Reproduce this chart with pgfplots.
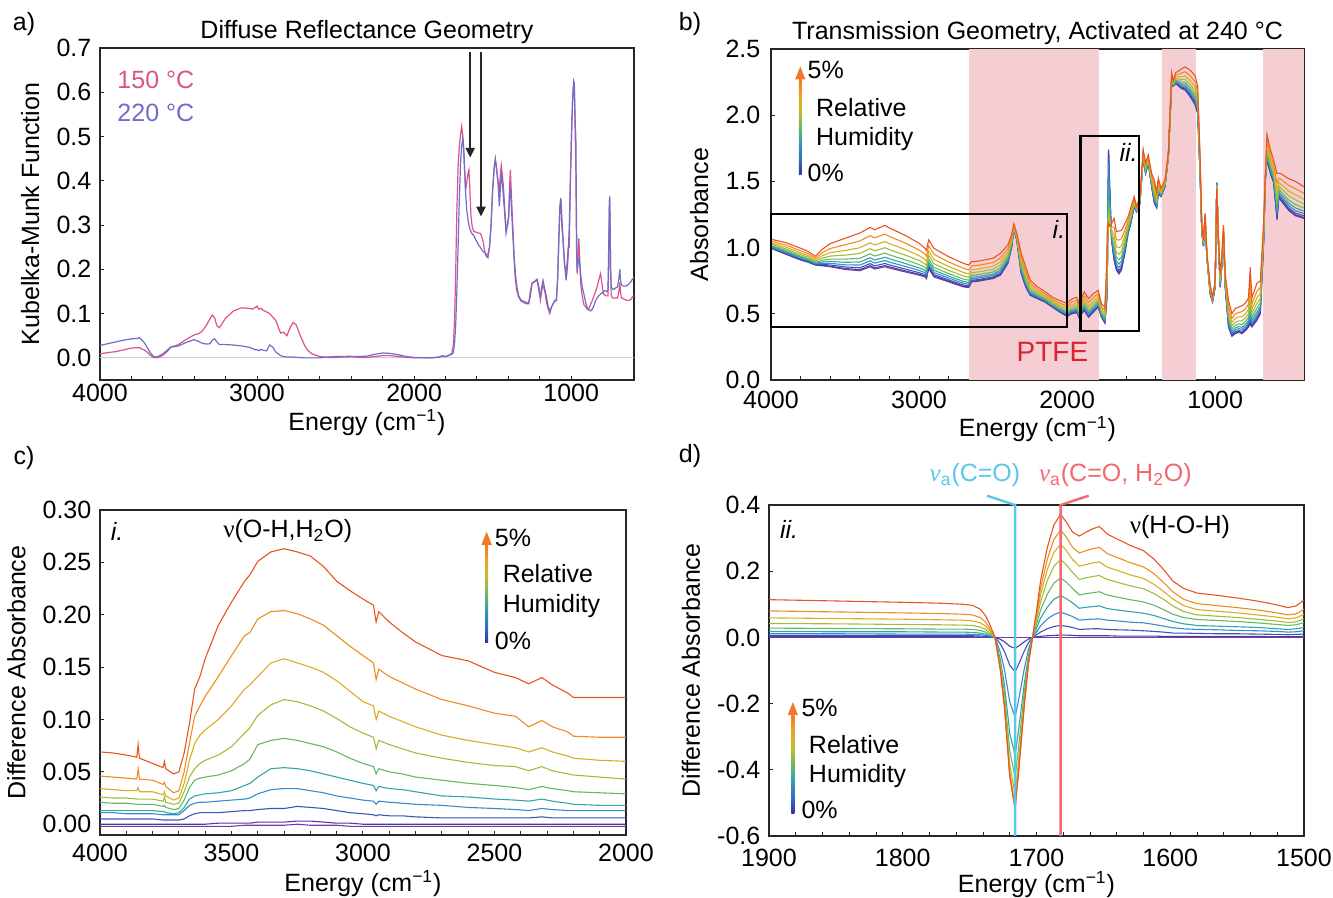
\documentclass[border=0pt]{standalone}
\usepackage{fontspec}
\setmainfont{Liberation Sans}
\newfontfamily\nufont{Liberation Serif}
\usepackage{pgfplots}
\pgfplotsset{compat=1.18}
\usepackage{pgfplotstable}
\usetikzlibrary{arrows.meta}

\definecolor{pinkA}{RGB}{217,84,140}
\definecolor{blueA}{RGB}{110,110,200}
\definecolor{ptfe}{RGB}{245,206,211}
\definecolor{ptfetext}{RGB}{215,35,50}
\definecolor{cyanL}{RGB}{90,200,235}
\definecolor{redL}{RGB}{242,105,112}
\definecolor{j0}{RGB}{120,60,160}
\definecolor{j1}{RGB}{75,60,165}
\definecolor{j2}{RGB}{60,85,185}
\definecolor{j3}{RGB}{55,140,205}
\definecolor{j4}{RGB}{50,165,165}
\definecolor{j5}{RGB}{100,185,100}
\definecolor{j6}{RGB}{160,190,60}
\definecolor{j7}{RGB}{215,175,35}
\definecolor{j8}{RGB}{240,140,30}
\definecolor{j9}{RGB}{232,85,35}
\definecolor{g0}{RGB}{50,50,155}
\definecolor{g1}{RGB}{50,110,200}
\definecolor{g2}{RGB}{50,160,170}
\definecolor{g3}{RGB}{110,185,90}
\definecolor{g4}{RGB}{190,190,50}
\definecolor{g5}{RGB}{235,165,35}
\definecolor{g6}{RGB}{240,120,40}
\pgfdeclareverticalshading{rhgrad}{100bp}{color(0bp)=(g0); color(25bp)=(g0); color(33bp)=(g1); color(42bp)=(g2); color(50bp)=(g3); color(58bp)=(g4); color(67bp)=(g5); color(75bp)=(g6); color(100bp)=(g6)}

\newcommand{\fs}{\fontsize{12.5}{15}\selectfont}

\pgfplotsset{
  every axis/.append style={
    scale only axis,
    anchor=south west,
    axis line style={line width=0.7pt, black!85},
    tick style={black!85, line width=0.5pt},
    tick align=inside,
    tick pos=left,
    major tick length=2pt,
    minor tick length=2pt,
    clip mode=individual,
    /pgf/number format/assume math mode=true,
    /pgf/number format/1000 sep={},
    every tick label/.append style={font=\fs},
    label style={font=\fs},
    title style={font=\fs, at={(0.5,1)}, anchor=south, yshift=-8pt},
    xlabel={Energy (cm\textsuperscript{−1})},
  },
  toprowA/.style={every x tick label/.append style={yshift=2.5pt}, xlabel style={yshift=4.5pt}},
  toprowB/.style={every x tick label/.append style={inner ysep=1pt, yshift=-4.4pt},
                  every y tick label/.append style={inner ysep=0.5pt, xshift=-1pt},
                  xlabel style={yshift=1.8pt}},
  botrowC/.style={xlabel style={yshift=4pt}},
  botrowD/.style={every x tick label/.append style={yshift=-2pt}, xlabel style={yshift=6pt}},
  rh/.style={line width=0.55pt},
}

% ---------------- panel a data: x, 150 C (pink), 220 C (blue)
\pgfplotstableread{
x pink blue
4000 0.009 0.028
3950 0.012 0.032
3900 0.014 0.036
3850 0.018 0.040
3800 0.022 0.043
3760 0.023 0.044
3750 0.023 0.046
3720 0.018 0.035
3700 0.013 0.024
3680 0.006 0.012
3660 0.001 0.003
3640 0.000 0.002
3620 0.002 0.005
3600 0.006 0.009
3570 0.015 0.018
3550 0.024 0.024
3500 0.030 0.027
3450 0.042 0.035
3400 0.052 0.041
3370 0.055 0.037
3350 0.060 0.033
3320 0.075 0.031
3300 0.088 0.032
3285 0.097 0.040
3270 0.090 0.043
3255 0.072 0.036
3240 0.068 0.030
3200 0.090 0.030
3150 0.106 0.029
3100 0.113 0.027
3050 0.112 0.024
3030 0.110 0.021
3010 0.114 0.018
3000 0.117 0.019
2990 0.110 0.016
2975 0.112 0.019
2960 0.107 0.017
2940 0.104 0.016
2920 0.100 0.029
2900 0.092 0.024
2880 0.084 0.013
2860 0.065 0.008
2850 0.056 0.005
2830 0.058 0.003
2810 0.050 0.002
2790 0.068 0.002
2770 0.080 0.002
2750 0.074 0.001
2730 0.055 0.001
2700 0.030 0.000
2680 0.018 0.000
2650 0.009 0.000
2600 0.003 0.000
2550 0.001 0.002
2500 0.001 0.003
2450 0.002 0.003
2420 0.004 0.002
2400 0.003 0.003
2350 0.001 0.003
2300 0.001 0.004
2250 0.003 0.008
2200 0.005 0.011
2150 0.005 0.010
2100 0.003 0.007
2050 0.001 0.003
2000 0.000 0.001
1900 0.000 0.000
1840 0.002 0.001
1820 0.005 0.004
1800 0.003 0.003
1780 0.006 0.005
1760 0.010 0.008
1750 0.030 0.012
1742 0.090 0.035
1735 0.200 0.075
1728 0.330 0.150
1720 0.430 0.250
1712 0.480 0.360
1704 0.505 0.440
1697 0.523 0.480
1690 0.500 0.494
1684 0.470 0.470
1678 0.420 0.420
1672 0.380 0.370
1665 0.395 0.335
1658 0.415 0.315
1651 0.425 0.300
1645 0.380 0.292
1638 0.320 0.285
1630 0.296 0.280
1620 0.286 0.276
1611 0.285 0.270
1600 0.283 0.262
1590 0.282 0.255
1579 0.281 0.250
1570 0.275 0.245
1560 0.262 0.240
1550 0.240 0.238
1540 0.230 0.230
1530 0.235 0.226
1520 0.250 0.250
1510 0.300 0.300
1500 0.380 0.380
1490 0.430 0.430
1483 0.450 0.448
1475 0.430 0.425
1466 0.400 0.395
1457 0.380 0.342
1450 0.420 0.390
1445 0.435 0.418
1437 0.410 0.390
1430 0.380 0.357
1422 0.330 0.320
1415 0.300 0.281
1405 0.300 0.300
1398 0.320 0.319
1392 0.390 0.370
1387 0.425 0.388
1382 0.380 0.350
1372 0.300 0.281
1363 0.230 0.220
1355 0.190 0.175
1345 0.160 0.150
1334 0.140 0.137
1318 0.130 0.128
1302 0.128 0.125
1286 0.125 0.122
1270 0.125 0.122
1260 0.150 0.140
1249 0.170 0.167
1235 0.172 0.172
1217 0.178 0.175
1205 0.160 0.150
1196 0.130 0.137
1188 0.150 0.160
1179 0.165 0.175
1168 0.150 0.155
1157 0.125 0.137
1146 0.110 0.115
1136 0.100 0.106
1125 0.115 0.115
1115 0.122 0.122
1105 0.130 0.128
1094 0.130 0.129
1086 0.180 0.180
1079 0.260 0.266
1072 0.340 0.340
1066 0.360 0.361
1060 0.300 0.320
1051 0.260 0.266
1042 0.210 0.210
1032 0.195 0.175
1025 0.220 0.200
1019 0.250 0.230
1012 0.250 0.300
1004 0.420 0.418
995 0.540 0.540
990 0.590 0.590
984 0.620 0.625
980 0.610 0.620
975 0.520 0.540
970 0.420 0.494
966 0.250 0.300
962 0.190 0.198
957 0.230 0.210
951 0.270 0.225
945 0.220 0.210
940 0.170 0.190
930 0.140 0.160
919 0.120 0.144
908 0.115 0.125
898 0.110 0.114
888 0.110 0.108
877 0.120 0.106
865 0.130 0.110
855 0.140 0.118
845 0.150 0.129
835 0.160 0.135
825 0.175 0.140
813 0.190 0.144
805 0.170 0.146
795 0.145 0.150
781 0.140 0.152
772 0.140 0.150
766 0.140 0.152
761 0.200 0.250
757 0.340 0.340
755 0.360 0.365
752 0.300 0.300
749 0.200 0.200
745 0.140 0.160
735 0.135 0.155
725 0.135 0.155
717 0.135 0.158
705 0.135 0.160
696 0.150 0.180
690 0.170 0.200
686 0.150 0.175
680 0.135 0.165
674 0.135 0.163
660 0.132 0.162
645 0.130 0.163
632 0.130 0.167
620 0.132 0.172
610 0.138 0.178
600 0.140 0.182
}\tabA

% ---------------- panel b data: 0% (y0) ... 5% (y9)
\pgfplotstableread{
x y0 y1 y2 y3 y4 y5 y6 y7 y8 y9
4000 0.995 0.997 1.000 1.005 1.011 1.017 1.026 1.036 1.049 1.063
3900 0.950 0.953 0.957 0.963 0.970 0.979 0.990 1.004 1.020 1.038
3800 0.906 0.909 0.913 0.919 0.926 0.935 0.947 0.960 0.976 0.995
3750 0.890 0.892 0.897 0.902 0.909 0.917 0.928 0.940 0.955 0.972
3700 0.868 0.870 0.873 0.878 0.883 0.890 0.899 0.909 0.921 0.935
3650 0.862 0.866 0.872 0.881 0.891 0.904 0.921 0.940 0.963 0.990
3600 0.855 0.860 0.869 0.881 0.895 0.913 0.936 0.962 0.993 1.030
3500 0.835 0.842 0.854 0.870 0.889 0.913 0.943 0.978 1.021 1.070
3400 0.825 0.834 0.848 0.868 0.891 0.919 0.956 0.999 1.050 1.110
3330 0.855 0.864 0.879 0.900 0.923 0.953 0.992 1.036 1.090 1.152
3300 0.838 0.847 0.862 0.883 0.906 0.936 0.975 1.019 1.073 1.135
3230 0.855 0.864 0.880 0.902 0.927 0.958 0.999 1.046 1.102 1.168
3200 0.845 0.854 0.869 0.890 0.915 0.945 0.984 1.030 1.084 1.148
3100 0.818 0.826 0.840 0.860 0.882 0.910 0.946 0.988 1.038 1.096
3000 0.792 0.799 0.811 0.828 0.847 0.872 0.903 0.939 0.982 1.033
2960 0.779 0.785 0.796 0.811 0.829 0.850 0.878 0.911 0.950 0.995
2950 0.765 0.771 0.782 0.797 0.814 0.836 0.864 0.896 0.935 0.980
2935 0.843 0.849 0.860 0.875 0.892 0.914 0.942 0.974 1.013 1.058
2900 0.779 0.785 0.796 0.811 0.829 0.850 0.878 0.911 0.950 0.995
2800 0.741 0.747 0.756 0.770 0.785 0.804 0.828 0.857 0.891 0.931
2700 0.703 0.708 0.717 0.730 0.744 0.762 0.785 0.812 0.844 0.881
2665 0.698 0.703 0.712 0.724 0.737 0.754 0.776 0.802 0.832 0.868
2645 0.741 0.746 0.753 0.764 0.776 0.791 0.811 0.834 0.861 0.893
2600 0.746 0.751 0.758 0.769 0.781 0.796 0.816 0.839 0.866 0.898
2500 0.766 0.771 0.778 0.789 0.801 0.816 0.836 0.859 0.887 0.919
2450 0.792 0.797 0.805 0.817 0.830 0.846 0.868 0.893 0.922 0.957
2400 0.881 0.885 0.892 0.902 0.913 0.927 0.945 0.966 0.991 1.020
2375 1.000 1.003 1.008 1.015 1.023 1.033 1.046 1.061 1.079 1.100
2360 1.135 1.136 1.139 1.142 1.145 1.150 1.156 1.162 1.171 1.180
2340 1.058 1.060 1.062 1.066 1.070 1.075 1.081 1.089 1.098 1.109
2310 0.805 0.810 0.817 0.828 0.840 0.855 0.875 0.898 0.925 0.957
2280 0.703 0.708 0.715 0.726 0.738 0.753 0.773 0.796 0.823 0.855
2250 0.640 0.643 0.649 0.657 0.666 0.678 0.692 0.710 0.730 0.754
2200 0.614 0.617 0.621 0.627 0.634 0.643 0.655 0.668 0.684 0.703
2150 0.589 0.591 0.595 0.601 0.607 0.615 0.625 0.637 0.651 0.668
2100 0.551 0.553 0.557 0.562 0.568 0.575 0.585 0.596 0.609 0.625
2050 0.513 0.516 0.520 0.526 0.533 0.542 0.553 0.566 0.582 0.600
2000 0.480 0.483 0.488 0.495 0.503 0.512 0.525 0.540 0.557 0.578
1970 0.500 0.503 0.509 0.517 0.525 0.536 0.551 0.567 0.587 0.610
1950 0.505 0.508 0.514 0.522 0.531 0.543 0.558 0.575 0.596 0.620
1935 0.510 0.513 0.519 0.527 0.536 0.548 0.563 0.580 0.601 0.625
1920 0.474 0.477 0.482 0.490 0.498 0.509 0.523 0.539 0.558 0.580
1885 0.525 0.529 0.536 0.546 0.557 0.571 0.589 0.610 0.636 0.665
1855 0.474 0.478 0.485 0.495 0.506 0.520 0.539 0.560 0.585 0.615
1825 0.510 0.514 0.521 0.531 0.542 0.556 0.574 0.595 0.621 0.650
1790 0.550 0.554 0.560 0.569 0.579 0.592 0.608 0.627 0.650 0.677
1768 0.474 0.477 0.482 0.489 0.497 0.507 0.520 0.536 0.554 0.575
1745 0.430 0.434 0.440 0.448 0.458 0.470 0.485 0.503 0.525 0.550
1732 0.600 0.609 0.624 0.645 0.669 0.699 0.738 0.783 0.837 0.900
1728 0.800 0.811 0.829 0.854 0.882 0.918 0.965 1.018 1.083 1.158
1720 1.740 1.740 1.701 1.634 1.471 1.354 1.275 1.225 1.191 1.180
1712 1.440 1.440 1.420 1.387 1.306 1.247 1.208 1.182 1.166 1.160
1700 1.060 1.064 1.070 1.078 1.088 1.100 1.115 1.133 1.155 1.180
1683 0.905 0.914 0.930 0.952 0.978 1.009 1.050 1.098 1.155 1.221
1667 0.830 0.839 0.853 0.874 0.897 0.926 0.963 1.007 1.059 1.120
1650 0.800 0.810 0.826 0.849 0.875 0.907 0.950 0.998 1.057 1.125
1633 0.830 0.839 0.854 0.875 0.899 0.929 0.968 1.013 1.067 1.130
1610 0.955 0.962 0.973 0.989 1.007 1.029 1.059 1.092 1.133 1.180
1588 1.107 1.111 1.117 1.126 1.136 1.149 1.165 1.184 1.207 1.234
1570 1.180 1.184 1.190 1.198 1.208 1.220 1.235 1.253 1.275 1.300
1547 1.310 1.312 1.316 1.321 1.327 1.335 1.345 1.356 1.370 1.386
1531 1.270 1.271 1.273 1.276 1.279 1.283 1.288 1.294 1.302 1.310
1508 1.335 1.337 1.339 1.343 1.347 1.352 1.358 1.366 1.375 1.386
1486 1.680 1.682 1.685 1.689 1.694 1.700 1.708 1.717 1.727 1.740
1470 1.560 1.562 1.566 1.572 1.578 1.586 1.597 1.609 1.623 1.640
1452 1.640 1.642 1.645 1.649 1.654 1.660 1.668 1.677 1.687 1.700
1429 1.460 1.463 1.468 1.475 1.483 1.493 1.506 1.521 1.539 1.560
1411 1.335 1.340 1.349 1.361 1.375 1.393 1.416 1.442 1.473 1.510
1395 1.300 1.304 1.310 1.318 1.328 1.340 1.355 1.373 1.395 1.420
1384 1.410 1.413 1.419 1.427 1.436 1.448 1.463 1.480 1.501 1.525
1366 1.385 1.387 1.390 1.395 1.400 1.406 1.415 1.425 1.436 1.450
1339 1.460 1.462 1.464 1.468 1.472 1.477 1.483 1.491 1.500 1.510
1316 1.690 1.691 1.692 1.694 1.696 1.698 1.702 1.705 1.710 1.715
1294 2.240 2.242 2.246 2.252 2.258 2.266 2.277 2.289 2.303 2.320
1282 2.220 2.221 2.223 2.226 2.229 2.233 2.238 2.244 2.252 2.260
1267 2.240 2.242 2.246 2.252 2.258 2.266 2.277 2.289 2.303 2.320
1226 2.200 2.205 2.212 2.223 2.235 2.250 2.269 2.292 2.319 2.350
1203 2.190 2.195 2.204 2.216 2.230 2.248 2.271 2.297 2.328 2.365
1169 2.140 2.146 2.156 2.170 2.186 2.206 2.232 2.262 2.298 2.340
1136 2.080 2.087 2.098 2.113 2.131 2.153 2.181 2.214 2.254 2.300
1118 2.010 2.016 2.027 2.042 2.058 2.079 2.107 2.138 2.176 2.220
1102 1.560 1.564 1.570 1.580 1.590 1.603 1.620 1.639 1.663 1.690
1090 1.110 1.112 1.116 1.121 1.126 1.133 1.142 1.153 1.165 1.180
1079 1.010 1.012 1.014 1.018 1.022 1.027 1.033 1.041 1.050 1.060
1068 1.210 1.212 1.214 1.218 1.222 1.227 1.233 1.241 1.250 1.260
1056 0.930 0.931 0.932 0.934 0.936 0.938 0.942 0.945 0.950 0.955
1034 0.650 0.652 0.656 0.662 0.668 0.675 0.685 0.697 0.711 0.727
1018 0.590 0.591 0.593 0.595 0.598 0.602 0.607 0.612 0.618 0.626
1000 0.700 0.702 0.704 0.708 0.712 0.717 0.723 0.731 0.740 0.750
989 1.490 1.488 1.486 1.483 1.479 1.474 1.467 1.460 1.451 1.440
977 1.010 1.012 1.014 1.018 1.022 1.027 1.033 1.041 1.050 1.060
966 0.700 0.703 0.708 0.715 0.723 0.733 0.746 0.761 0.779 0.800
955 0.860 0.862 0.866 0.871 0.876 0.883 0.892 0.903 0.915 0.930
944 1.100 1.102 1.106 1.111 1.116 1.123 1.132 1.143 1.155 1.170
932 0.700 0.703 0.708 0.715 0.723 0.733 0.746 0.761 0.779 0.800
910 0.400 0.406 0.416 0.430 0.446 0.466 0.492 0.522 0.558 0.600
887 0.330 0.335 0.344 0.356 0.369 0.386 0.408 0.434 0.464 0.500
864 0.350 0.356 0.365 0.379 0.394 0.413 0.437 0.466 0.500 0.540
841 0.360 0.366 0.375 0.389 0.404 0.423 0.447 0.476 0.510 0.550
819 0.350 0.356 0.367 0.382 0.398 0.419 0.447 0.478 0.516 0.560
797 0.370 0.376 0.387 0.402 0.418 0.439 0.467 0.498 0.536 0.580
785 0.385 0.391 0.402 0.417 0.434 0.456 0.484 0.516 0.555 0.600
775 0.400 0.407 0.418 0.433 0.451 0.473 0.501 0.534 0.574 0.620
763 0.420 0.433 0.454 0.485 0.519 0.562 0.618 0.682 0.760 0.850
752 0.400 0.407 0.418 0.433 0.451 0.473 0.501 0.534 0.574 0.620
718 0.450 0.458 0.472 0.492 0.514 0.542 0.579 0.621 0.671 0.730
695 0.500 0.508 0.520 0.538 0.558 0.583 0.615 0.653 0.698 0.750
672 1.060 1.064 1.071 1.081 1.092 1.106 1.124 1.145 1.171 1.200
661 1.510 1.512 1.514 1.518 1.522 1.527 1.533 1.541 1.550 1.560
650 1.660 1.666 1.676 1.689 1.705 1.724 1.750 1.779 1.814 1.855
627 1.560 1.565 1.574 1.587 1.601 1.619 1.643 1.670 1.702 1.740
605 1.490 1.495 1.504 1.516 1.529 1.546 1.568 1.594 1.624 1.660
582 1.210 1.221 1.238 1.263 1.291 1.326 1.371 1.424 1.487 1.560
570 1.385 1.390 1.399 1.411 1.425 1.443 1.466 1.492 1.523 1.560
559 1.360 1.366 1.376 1.390 1.406 1.426 1.452 1.482 1.518 1.560
503 1.280 1.287 1.299 1.316 1.335 1.359 1.390 1.426 1.470 1.520
458 1.240 1.248 1.261 1.279 1.300 1.326 1.360 1.399 1.445 1.500
401 1.220 1.227 1.239 1.256 1.275 1.299 1.330 1.366 1.410 1.460
}\tabB

% ---------------- panel c data
\pgfplotstableread{
x y0 y1 y2 y3 y4 y5 y6 y7 y8 y9
4000 -0.002 0.000 0.005 0.011 0.013 0.021 0.026 0.034 0.046 0.069
3950 -0.002 0.000 0.005 0.011 0.013 0.020 0.025 0.033 0.045 0.068
3900 -0.002 0.000 0.005 0.010 0.013 0.020 0.025 0.032 0.044 0.066
3860 -0.002 0.000 0.005 0.010 0.013 0.019 0.024 0.032 0.043 0.064
3855 -0.002 0.000 0.005 0.010 0.013 0.019 0.024 0.035 0.053 0.076
3850 -0.002 0.000 0.005 0.010 0.013 0.019 0.024 0.031 0.043 0.063
3800 -0.002 0.000 0.005 0.010 0.013 0.019 0.024 0.031 0.042 0.058
3760 -0.002 0.000 0.004 0.009 0.012 0.017 0.022 0.028 0.038 0.054
3755 -0.002 0.000 0.004 0.009 0.012 0.018 0.026 0.031 0.040 0.060
3750 -0.002 0.000 0.004 0.009 0.011 0.016 0.021 0.027 0.036 0.053
3720 -0.002 0.000 0.004 0.009 0.010 0.014 0.019 0.023 0.030 0.048
3700 -0.002 0.000 0.004 0.009 0.011 0.015 0.020 0.025 0.032 0.050
3680 -0.002 0.000 0.005 0.013 0.016 0.023 0.031 0.039 0.050 0.068
3660 -0.002 0.000 0.008 0.018 0.024 0.035 0.045 0.061 0.077 0.096
3640 -0.002 0.000 0.010 0.020 0.027 0.042 0.053 0.077 0.103 0.129
3620 -0.002 0.000 0.011 0.021 0.028 0.044 0.058 0.085 0.113 0.141
3600 -0.002 0.000 0.011 0.021 0.029 0.045 0.061 0.090 0.122 0.158
3550 -0.002 0.001 0.011 0.022 0.030 0.047 0.066 0.100 0.141 0.190
3500 -0.002 0.001 0.012 0.023 0.032 0.051 0.074 0.113 0.161 0.212
3450 -0.001 0.001 0.013 0.024 0.037 0.058 0.087 0.129 0.180 0.232
3430 -0.001 0.001 0.013 0.025 0.039 0.062 0.092 0.133 0.183 0.238
3400 -0.001 0.002 0.014 0.029 0.045 0.076 0.104 0.141 0.196 0.251
3350 -0.001 0.002 0.015 0.033 0.053 0.080 0.114 0.154 0.203 0.260
3300 -0.001 0.002 0.015 0.034 0.054 0.082 0.119 0.158 0.204 0.263
3250 0.000 0.003 0.017 0.034 0.053 0.080 0.117 0.154 0.201 0.260
3200 -0.001 0.003 0.016 0.032 0.051 0.077 0.113 0.150 0.196 0.256
3150 -0.001 0.002 0.015 0.030 0.048 0.074 0.108 0.145 0.190 0.246
3100 -0.001 0.001 0.013 0.027 0.045 0.069 0.101 0.137 0.180 0.232
3050 -0.002 0.001 0.011 0.025 0.042 0.063 0.093 0.127 0.170 0.223
3000 -0.002 0.000 0.010 0.023 0.039 0.058 0.087 0.117 0.161 0.215
2960 -0.002 0.000 0.009 0.022 0.037 0.055 0.083 0.113 0.154 0.209
2950 -0.002 0.000 0.008 0.019 0.032 0.048 0.072 0.100 0.138 0.193
2940 -0.002 0.000 0.009 0.022 0.036 0.053 0.080 0.108 0.148 0.203
2900 -0.002 0.000 0.008 0.021 0.034 0.050 0.076 0.103 0.141 0.193
2850 -0.002 0.000 0.008 0.020 0.033 0.048 0.072 0.098 0.135 0.183
2800 -0.002 0.000 0.007 0.019 0.031 0.045 0.068 0.093 0.129 0.174
2700 -0.002 0.000 0.006 0.018 0.027 0.042 0.063 0.085 0.119 0.161
2600 -0.002 0.000 0.006 0.016 0.026 0.039 0.059 0.080 0.113 0.156
2500 -0.002 0.000 0.006 0.015 0.024 0.037 0.056 0.076 0.106 0.145
2420 -0.002 0.000 0.006 0.014 0.023 0.035 0.055 0.073 0.103 0.140
2370 -0.002 0.000 0.006 0.013 0.022 0.033 0.051 0.069 0.093 0.134
2320 -0.002 0.000 0.007 0.015 0.024 0.036 0.055 0.073 0.099 0.140
2280 -0.002 0.000 0.006 0.014 0.022 0.034 0.051 0.069 0.093 0.133
2220 -0.002 0.000 0.006 0.013 0.020 0.032 0.048 0.065 0.088 0.125
2200 -0.002 0.000 0.006 0.013 0.019 0.031 0.047 0.063 0.084 0.121
2100 -0.002 0.000 0.006 0.013 0.018 0.030 0.045 0.061 0.083 0.121
2000 -0.002 0.000 0.006 0.013 0.018 0.029 0.043 0.060 0.083 0.121
}\tabC

% ---------------- panel d data
\pgfplotstableread{
x y0 y1 y2 y3 y4 y5 y6 y7 y8 y9
1900 0 0.002 0.006 0.011 0.018 0.028 0.042 0.059 0.080 0.114
1850 0 0.002 0.006 0.011 0.017 0.027 0.041 0.057 0.077 0.110
1800 0 0.002 0.006 0.010 0.017 0.026 0.039 0.055 0.074 0.106
1770 0 0.002 0.006 0.010 0.016 0.025 0.038 0.053 0.072 0.103
1755 0 0.002 0.005 0.010 0.016 0.025 0.037 0.052 0.070 0.100
1748 0 0.002 0.005 0.009 0.015 0.024 0.036 0.050 0.068 0.097
1742 0 0.001 0.004 0.008 0.013 0.021 0.031 0.044 0.060 0.085
1738 0 0.001 0.003 0.006 0.010 0.016 0.024 0.034 0.046 0.065
1735 0 0.001 0.002 0.004 0.006 0.010 0.015 0.021 0.028 0.040
1731 0 0 0 0 0 0 0 0 0 0
1727 0 -0.006 -0.020 -0.046 -0.068 -0.080 -0.090 -0.096 -0.098 -0.100
1724 0 -0.013 -0.042 -0.096 -0.143 -0.169 -0.190 -0.202 -0.206 -0.210
1720 0 -0.027 -0.084 -0.195 -0.289 -0.343 -0.385 -0.409 -0.417 -0.420
1716 0 -0.033 -0.104 -0.241 -0.357 -0.423 -0.475 -0.505 -0.515 -0.520
1713 0 -0.025 -0.078 -0.181 -0.268 -0.317 -0.356 -0.379 -0.386 -0.390
1709 0 -0.013 -0.040 -0.092 -0.136 -0.161 -0.181 -0.192 -0.196 -0.200
1706 0 -0.005 -0.016 -0.036 -0.054 -0.063 -0.071 -0.076 -0.077 -0.080
1703 0 0 0 0 0 0 0 0 0 0
1700 0 0.002 0.008 0.016 0.027 0.038 0.051 0.060 0.070 0.080
1697 0 0.003 0.016 0.035 0.058 0.082 0.107 0.128 0.148 0.170
1692 0 0.005 0.026 0.055 0.091 0.130 0.171 0.204 0.235 0.270
1687 0 0.006 0.033 0.069 0.115 0.164 0.215 0.257 0.296 0.340
1682 0 0.007 0.036 0.076 0.126 0.179 0.235 0.281 0.324 0.372
1678 0 0.007 0.034 0.071 0.118 0.168 0.221 0.264 0.305 0.350
1673 0 0.006 0.030 0.063 0.104 0.148 0.196 0.235 0.272 0.318
1668 0 0.005 0.024 0.052 0.088 0.128 0.175 0.215 0.255 0.306
1663 0 0.005 0.025 0.054 0.091 0.132 0.180 0.220 0.262 0.318
1658 0 0.005 0.026 0.055 0.093 0.135 0.184 0.225 0.268 0.328
1653 0 0.005 0.026 0.056 0.095 0.138 0.187 0.228 0.272 0.335
1647 0 0.005 0.024 0.052 0.087 0.128 0.175 0.212 0.253 0.312
1640 0 0.004 0.023 0.050 0.083 0.122 0.167 0.203 0.242 0.298
1630 0 0.004 0.022 0.046 0.078 0.114 0.156 0.189 0.226 0.278
1620 0 0.004 0.020 0.044 0.073 0.107 0.147 0.178 0.213 0.262
1612 0 0.004 0.018 0.039 0.066 0.097 0.132 0.160 0.192 0.236
1605 0 0.003 0.016 0.034 0.057 0.084 0.115 0.139 0.166 0.205
1598 0 0.003 0.013 0.029 0.048 0.070 0.095 0.116 0.138 0.170
1590 0 0.003 0.013 0.026 0.041 0.060 0.078 0.096 0.115 0.148
1580 0 0.003 0.012 0.024 0.036 0.054 0.068 0.084 0.102 0.134
1565 0 0.003 0.011 0.023 0.034 0.051 0.064 0.079 0.096 0.127
1550 0 0.003 0.011 0.021 0.032 0.048 0.060 0.074 0.090 0.119
1535 0 0.003 0.010 0.020 0.030 0.044 0.055 0.068 0.083 0.110
1520 0 0.002 0.009 0.018 0.026 0.039 0.049 0.061 0.074 0.098
1512 0 0.002 0.008 0.016 0.024 0.036 0.045 0.056 0.068 0.090
1506 0 0.002 0.009 0.017 0.026 0.038 0.047 0.059 0.071 0.095
1500 0 0.003 0.010 0.020 0.030 0.045 0.056 0.070 0.085 0.113
}\tabD

\newcommand{\tencurves}[1]{%
  \addplot[rh, j0] table[x=x, y=y0] {#1};
  \addplot[rh, j1] table[x=x, y=y1] {#1};
  \addplot[rh, j2] table[x=x, y=y2] {#1};
  \addplot[rh, j3] table[x=x, y=y3] {#1};
  \addplot[rh, j4] table[x=x, y=y4] {#1};
  \addplot[rh, j5] table[x=x, y=y5] {#1};
  \addplot[rh, j6] table[x=x, y=y6] {#1};
  \addplot[rh, j7] table[x=x, y=y7] {#1};
  \addplot[rh, j8] table[x=x, y=y8] {#1};
  \addplot[rh, j9] table[x=x, y=y9] {#1};
}

\begin{document}
\fs
\begin{tikzpicture}
\path[use as bounding box] (0,0) rectangle (666.5pt,449pt);

% ================= panel a
\begin{axis}[at={(50pt,259pt)}, width=267pt, height=166pt, toprowA,
  xmin=600, xmax=4000, x dir=reverse, ymin=-0.05, ymax=0.7,
  xtick={1000,2000,3000,4000}, minor x tick num=4,
  ytick={0,0.1,0.2,0.3,0.4,0.5,0.6,0.7},
  yticklabel style={/pgf/number format/.cd, fixed, fixed zerofill, precision=1},
  ylabel={Kubelka-Munk Function},
  title={Diffuse Reflectance Geometry}]
\addplot[gray!40, line width=0.6pt] coordinates {(4000,0) (600,0)};
\addplot[pinkA, line width=0.6pt] table[x=x, y=pink] {\tabA};
\addplot[blueA, line width=0.6pt] table[x=x, y=blue] {\tabA};
\draw[-{Triangle[length=5pt,width=4.5pt]}, line width=1.1pt, black!85] (axis cs:1643,0.69) -- (axis cs:1643,0.452);
\draw[-{Triangle[length=5pt,width=4.5pt]}, line width=1.1pt, black!85] (axis cs:1574,0.69) -- (axis cs:1574,0.319);
\node[anchor=west, text=pinkA, inner sep=0pt] at (rel axis cs:0.032,0.905) {150 °C};
\node[anchor=west, text=blueA, inner sep=0pt] at (rel axis cs:0.032,0.805) {220 °C};
\end{axis}
\node at (12pt,437pt) {a)};

% ================= panel b
\begin{axis}[at={(385.5pt,259pt)}, width=266.5pt, height=165.5pt, toprowB,
  xmin=400, xmax=4000, x dir=reverse, ymin=0, ymax=2.5,
  xtick={1000,2000,3000,4000}, minor x tick num=4,
  ytick={0,0.5,1,1.5,2,2.5},
  yticklabel style={/pgf/number format/.cd, fixed, fixed zerofill, precision=1},
  ylabel={Absorbance},
  title={Transmission Geometry, Activated at 240 °C}]
\addplot[fill=ptfe, draw=none] coordinates {(2660,0) (2660,2.5) (1783,2.5) (1783,0)} -- cycle;
\addplot[fill=ptfe, draw=none] coordinates {(1357,0) (1357,2.5) (1127,2.5) (1127,0)} -- cycle;
\addplot[fill=ptfe, draw=none] coordinates {(675,0) (675,2.5) (400,2.5) (400,0)} -- cycle;
\tencurves{\tabB}
\draw[line width=1.1pt, black] (axis cs:4000,0.398) rectangle (axis cs:2000,1.254);
\draw[line width=1.1pt, black] (axis cs:1909,0.373) rectangle (axis cs:1512,1.845);
\node[font=\fs\itshape] at (axis cs:2055,1.135) {i.};
\node[font=\fs\itshape] at (axis cs:1585,1.72) {ii.};
\node[text=ptfetext, font=\fontsize{14}{16}\selectfont] at (axis cs:2099,0.213) {PTFE};
\coordinate (bB) at (rel axis cs:0.055,0.621);
\coordinate (bT) at (rel axis cs:0.055,0.908);
\node[anchor=west, inner sep=0pt] at (rel axis cs:0.068,0.938) {5\%};
\node[anchor=west, inner sep=0pt] at (rel axis cs:0.084,0.822) {Relative};
\node[anchor=west, inner sep=0pt] at (rel axis cs:0.084,0.728) {Humidity};
\node[anchor=west, inner sep=0pt] at (rel axis cs:0.068,0.626) {0\%};
\end{axis}
\shade[shading=rhgrad] ([xshift=-0.7pt]bB) rectangle ([xshift=0.7pt]bT);
\fill[g6] ([xshift=-2.6pt]bT) -- ([xshift=2.6pt]bT) -- ([yshift=6.5pt]bT) -- cycle;
\node at (345pt,437pt) {b)};

% ================= panel c
\begin{axis}[at={(50pt,31.5pt)}, width=263pt, height=162.5pt, botrowC,
  xmin=2000, xmax=4000, x dir=reverse, ymin=-0.0103, ymax=0.30,
  xtick={2000,2500,3000,3500,4000}, minor x tick num=4,
  ytick={0,0.05,0.1,0.15,0.2,0.25,0.3},
  yticklabel style={/pgf/number format/.cd, fixed, fixed zerofill, precision=2},
  ylabel={Difference Absorbance}]
\tencurves{\tabC}
\node[font=\fs\itshape, anchor=west, inner sep=0pt] at (rel axis cs:0.02,0.935) {i.};
\node at (rel axis cs:0.357,0.935) {{\nufont ν}(O-H,H\textsubscript{2}O)};
\coordinate (cB) at (rel axis cs:0.735,0.593);
\coordinate (cT) at (rel axis cs:0.735,0.893);
\node[anchor=west, inner sep=0pt] at (rel axis cs:0.750,0.914) {5\%};
\node[anchor=west, inner sep=0pt] at (rel axis cs:0.765,0.803) {Relative};
\node[anchor=west, inner sep=0pt] at (rel axis cs:0.765,0.704) {Humidity};
\node[anchor=west, inner sep=0pt] at (rel axis cs:0.750,0.598) {0\%};
\end{axis}
\shade[shading=rhgrad] ([xshift=-0.7pt]cB) rectangle ([xshift=0.7pt]cT);
\fill[g6] ([xshift=-2.6pt]cT) -- ([xshift=2.6pt]cT) -- ([yshift=6.5pt]cT) -- cycle;
\node at (12pt,220pt) {c)};

% ================= panel d
\begin{axis}[at={(384.5pt,31pt)}, width=267.5pt, height=165.5pt, botrowD,
  xmin=1500, xmax=1900, x dir=reverse, ymin=-0.6, ymax=0.4,
  xtick={1500,1600,1700,1800,1900}, minor x tick num=4,
  ytick={-0.6,-0.4,-0.2,0,0.2,0.4},
  yticklabel style={/pgf/number format/.cd, fixed, fixed zerofill, precision=1},
  ylabel={Difference Absorbance}]
\tencurves{\tabD}
\draw[cyanL, line width=1.2pt] (axis cs:1716,-0.6) -- (axis cs:1716,0.4) -- (axis cs:1737,0.428);
\draw[redL, line width=1.2pt] (axis cs:1682,-0.6) -- (axis cs:1682,0.4) -- (axis cs:1661,0.428);
\node[text=cyanL] at (axis cs:1746,0.49) {{\nufont\itshape ν}\textsubscript{a}(C=O)};
\node[text=redL] at (axis cs:1641,0.49) {{\nufont\itshape ν}\textsubscript{a}(C=O, H\textsubscript{2}O)};
\node[font=\fs\itshape, anchor=west, inner sep=0pt] at (rel axis cs:0.02,0.925) {ii.};
\node at (rel axis cs:0.768,0.932) {{\nufont ν}(H-O-H)};
\coordinate (dB) at (rel axis cs:0.0446,0.069);
\coordinate (dT) at (rel axis cs:0.0446,0.365);
\node[anchor=west, inner sep=0pt] at (rel axis cs:0.060,0.386) {5\%};
\node[anchor=west, inner sep=0pt] at (rel axis cs:0.074,0.275) {Relative};
\node[anchor=west, inner sep=0pt] at (rel axis cs:0.074,0.180) {Humidity};
\node[anchor=west, inner sep=0pt] at (rel axis cs:0.060,0.079) {0\%};
\end{axis}
\shade[shading=rhgrad] ([xshift=-0.7pt]dB) rectangle ([xshift=0.7pt]dT);
\fill[g6] ([xshift=-2.6pt]dT) -- ([xshift=2.6pt]dT) -- ([yshift=6.5pt]dT) -- cycle;
\node at (345pt,221pt) {d)};
\end{tikzpicture}
\end{document}
